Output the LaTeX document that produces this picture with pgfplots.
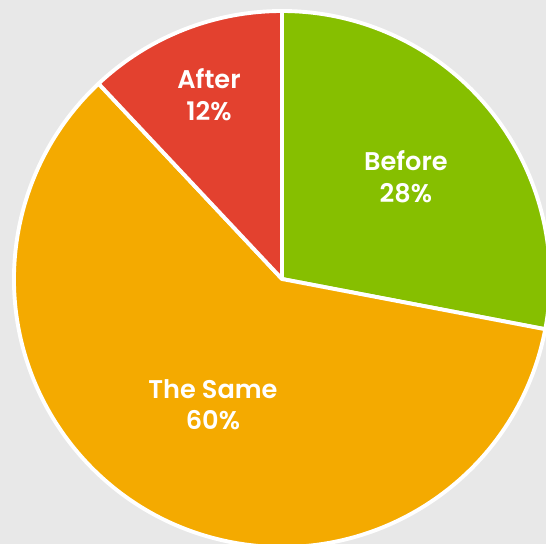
\documentclass[border=0pt]{standalone}
\usepackage{pgfplots}
\pgfplotsset{compat=1.18}
\usepackage{pgfplotstable}
\usepackage{fontspec}
\setmainfont{Poppins SemiBold}

\definecolor{cBefore}{HTML}{86BF00}
\definecolor{cSame}{HTML}{F4AA00}
\definecolor{cAfter}{HTML}{E3412F}
\definecolor{bg}{HTML}{E8E8E8}

% share in percent, label radius as fraction of pie radius
\pgfplotstableread[col sep=comma]{
label,value,lr,col
Before,28,0.60,cBefore
The Same,60,0.535,cSame
After,12,0.74,cAfter
}\piedata

\def\R{193.68pt}% 2.69in
\begin{document}
\begin{tikzpicture}
% slice angles, clockwise from the top
\pgfplotstablegetrowsof{\piedata}
\pgfmathtruncatemacro\lastrow{\pgfplotsretval-1}
\xdef\curang{90}
\foreach \i in {0,...,\lastrow}{%
  \pgfplotstablegetelem{\i}{value}\of\piedata \let\v\pgfplotsretval
  \expandafter\xdef\csname val\i\endcsname{\v}%
  \pgfmathsetmacro\ea{\curang-3.6*\v}%
  \pgfmathsetmacro\ma{(\curang+\ea)/2}%
  \expandafter\xdef\csname sa\i\endcsname{\curang}%
  \expandafter\xdef\csname ea\i\endcsname{\ea}%
  \expandafter\xdef\csname ma\i\endcsname{\ma}%
  \pgfplotstablegetelem{\i}{lr}\of\piedata
  \pgfmathsetmacro\lrr{\pgfplotsretval*193.68}%
  \expandafter\xdef\csname lr\i\endcsname{\lrr}%
  \pgfplotstablegetelem{\i}{label}\of\piedata
  \expandafter\xdef\csname lab\i\endcsname{\pgfplotsretval}%
  \pgfplotstablegetelem{\i}{col}\of\piedata
  \expandafter\xdef\csname col\i\endcsname{\pgfplotsretval}%
  \xdef\curang{\ea}%
}
\begin{axis}[
  hide axis,
  scale only axis,
  width=5.46in, height=5.44in,
  xmin=0, xmax=546, ymin=0, ymax=544,
]
\fill[bg] (axis cs:0,0) rectangle (axis cs:546,544);
\pgfplotsinvokeforeach{0,1,2}{
  \edef\temp{\noexpand\filldraw[overlay, fill=\csname col#1\endcsname, draw=white,
      line width=2.8pt, line join=round]
    (axis cs:282,265) -- ++(\csname sa#1\endcsname:\noexpand\R)
    arc[start angle=\csname sa#1\endcsname, end angle=\csname ea#1\endcsname,
        radius=\noexpand\R] -- cycle;}
  \temp
}
\pgfplotsinvokeforeach{0,1,2}{
  \edef\temp{\noexpand\path (axis cs:282,265) ++(\csname ma#1\endcsname:\csname lr#1\endcsname pt)
    node[text=white, align=center, font=\noexpand\fontsize{18.5}{23}\noexpand\selectfont]
    {\csname lab#1\endcsname\noexpand\\\csname val#1\endcsname\noexpand\%};}
  \temp
}
\end{axis}
\end{tikzpicture}
\end{document}
